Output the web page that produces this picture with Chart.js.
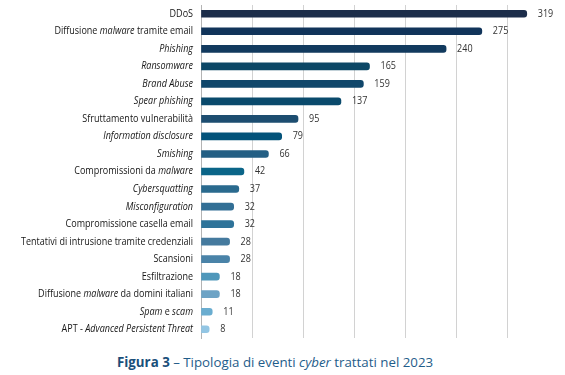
<!DOCTYPE html>
<html lang="it">
<head>
<meta charset="utf-8">
<script src="https://cdn.jsdelivr.net/npm/chart.js@4.4.1/dist/chart.umd.min.js"></script>
<style>
  html, body { margin: 0; padding: 0; background: #fff; }
  #wrap { position: relative; width: 565px; height: 345px; }
  #caption {
    font-family: "Open Sans", sans-serif;
    font-size: 13.3px;
    color: #1f5d8a;
    margin-top: 8px;
    padding-left: 117px;
    white-space: nowrap;
  }
  #caption b { color: #1a4f7a; }
</style>
</head>
<body>
<div id="wrap"><canvas id="chart" width="565" height="345"></canvas></div>
<div id="caption"><b>Figura 3</b> – Tipologia di eventi <i>cyber</i> trattati nel 2023</div>
<script>
const categories = [
  "DDoS",
  "Diffusione malware tramite email",
  "Phishing",
  "Ransomware",
  "Brand Abuse",
  "Spear phishing",
  "Sfruttamento vulnerabilità",
  "Information disclosure",
  "Smishing",
  "Compromissioni da malware",
  "Cybersquatting",
  "Misconfiguration",
  "Compromissione casella email",
  "Tentativi di intrusione tramite credenziali",
  "Scansioni",
  "Esfiltrazione",
  "Diffusione malware da domini italiani",
  "Spam e scam",
  "APT - Advanced Persistent Threat"
];
const events = [319, 275, 240, 165, 159, 137, 95, 79, 66, 42, 37, 32, 32, 28, 28, 18, 18, 11, 8];
const xTicks = [0, 50, 100, 150, 200, 250, 300];

// words set in italic inside the category labels
const italicTerms = ["Advanced Persistent Threat", "Information disclosure", "Spear phishing",
  "Brand Abuse", "Misconfiguration", "Cybersquatting", "Ransomware", "Smishing",
  "Phishing", "malware", "Spam", "scam"];

const barColors = [
  "#1c2d4a", "#11345a", "#123a5e", "#0c4766", "#10476b", "#0a4a6c", "#1d4d70",
  "#04537a", "#245f84", "#0b6588", "#2a6a8e", "#326f95", "#2e7399", "#457a9e",
  "#4a83a8", "#4f97ba", "#6da3c5", "#6aadd0", "#93c6e4"
];

const FONT = '"Open Sans", sans-serif';
const SIZE = 10.5;

function splitLabel(label) {
  const re = new RegExp('(' + italicTerms.join('|') + ')', 'g');
  return label.split(re).filter(s => s.length).map(s => ({ text: s, italic: italicTerms.includes(s) }));
}

// the original uses a narrow typeface: squeeze Open Sans horizontally so the
// longest label spans ~172px like in the source figure
function squeeze(ctx) {
  ctx.font = '500 ' + SIZE + 'px ' + FONT;
  return 172 / ctx.measureText(categories[13]).width;
}

const labelPlugin = {
  id: 'labels',
  afterDraw(chart) {
    const { ctx, chartArea } = chart;
    const y = chart.scales.y;
    const meta = chart.getDatasetMeta(0);
    ctx.save();
    const sx = squeeze(ctx);
    ctx.textBaseline = 'middle';
    ctx.textAlign = 'left';
    categories.forEach((label, i) => {
      const py = y.getPixelForValue(i);
      const parts = splitLabel(label);
      let x = chartArea.left - 8;
      for (let k = parts.length - 1; k >= 0; k--) {
        ctx.font = (parts[k].italic ? 'italic ' : '') + '500 ' + SIZE + 'px ' + FONT;
        const w = ctx.measureText(parts[k].text).width * sx;
        x -= w;
        ctx.save();
        ctx.translate(x, py);
        ctx.scale(sx, 1);
        ctx.fillStyle = '#161616';
        ctx.fillText(parts[k].text, 0, 0);
        ctx.restore();
      }
      // value label
      const bar = meta.data[i];
      ctx.save();
      ctx.translate(bar.x + 11, py);
      ctx.scale(sx, 1);
      ctx.font = SIZE + 'px ' + FONT;
      ctx.fillStyle = '#333';
      ctx.fillText(String(events[i]), 0, 0);
      ctx.restore();
    });
    ctx.restore();
  }
};

new Chart(document.getElementById('chart'), {
  type: 'bar',
  data: {
    labels: categories,
    datasets: [{
      data: events,
      backgroundColor: barColors,
      barThickness: 7,
      borderRadius: 3,
      borderSkipped: 'start'
    }]
  },
  options: {
    indexAxis: 'y',
    responsive: false,
    animation: false,
    layout: { padding: { top: 5, right: 27, bottom: 7, left: 0 } },
    plugins: { legend: { display: false }, tooltip: { enabled: false } },
    scales: {
      x: {
        min: 0,
        max: 330,
        afterBuildTicks: s => { s.ticks = xTicks.map(v => ({ value: v })); },
        ticks: { display: false },
        grid: { color: '#d2d2d2', drawTicks: false, lineWidth: 1 },
        border: { display: false }
      },
      y: {
        ticks: { display: false },
        grid: { display: false, drawTicks: false },
        border: { display: true, color: '#b4b4b4', width: 1 },
        afterFit: s => { s.width = 201; }
      }
    }
  },
  plugins: [labelPlugin]
});
</script>
</body>
</html>
